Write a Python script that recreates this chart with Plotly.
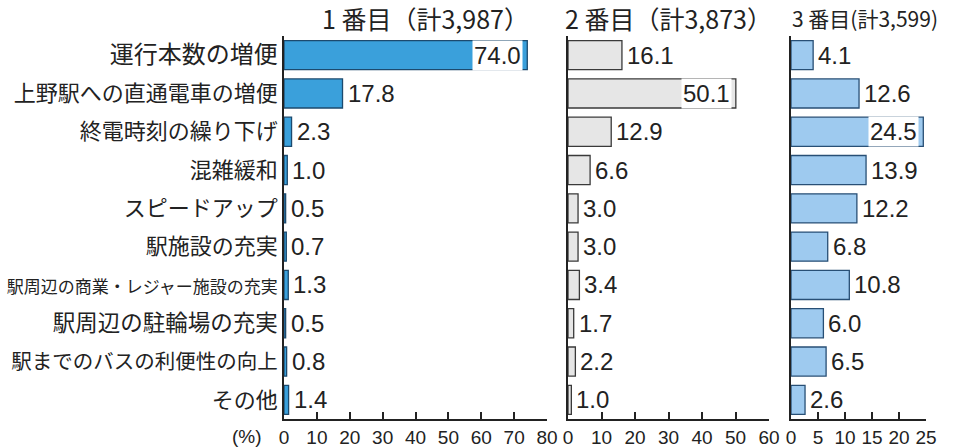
import plotly.graph_objects as go

categories = ["運行本数の増便", "上野駅への直通電車の増便", "終電時刻の繰り下げ", "混雑緩和",
              "スピードアップ", "駅施設の充実", "駅周辺の商業・レジャー施設の充実",
              "駅周辺の駐輪場の充実", "駅までのバスの利便性の向上", "その他"]
first = [74.0, 17.8, 2.3, 1.0, 0.5, 0.7, 1.3, 0.5, 0.8, 1.4]
second = [16.1, 50.1, 12.9, 6.6, 3.0, 3.0, 3.4, 1.7, 2.2, 1.0]
third = [4.1, 12.6, 24.5, 13.9, 12.2, 6.8, 10.8, 6.0, 6.5, 2.6]
titles = ["1 番目（計3,987）", "2 番目（計3,873）", "3 番目(計3,599)"]
x_max = [80, 60, 25]
x_step = [10, 10, 5]
inside_threshold = [60, 40, 20]

# per-label font sizes to mimic the condensed label widths
label_sizes = [24, 22, 22, 22, 22, 22, 17, 22.5, 20.5, 22]

W, H = 965, 448
JP = "Noto Sans CJK JP"
NUM = "Liberation Sans, Arial"

fills = ["#3aa0db", "#e6e6e6", "#9ecaef"]
lines = ["#1c4a6e", "#3a3a3a", "#284f75"]
domains = [[284 / W, 547 / W], [568 / W, 769 / W], [791 / W, 926 / W]]
ydom = [(H - 419) / H, (H - 36) / H]

fig = go.Figure()
annotations = []
series = [first, second, third]
for i, vals in enumerate(series):
    ax = "" if i == 0 else str(i + 1)
    fig.add_trace(go.Bar(
        x=vals, y=categories, orientation="h",
        marker=dict(color=fills[i], line=dict(color=lines[i], width=1.3)),
        width=0.76, xaxis="x" + ax, yaxis="y" + ax, showlegend=False,
        hoverinfo="x+y",
    ))
    for c, v in zip(categories, vals):
        if v >= inside_threshold[i]:
            annotations.append(dict(
                x=v, y=c, xref="x" + ax, yref="y" + ax, text=f"{v:.1f}",
                xanchor="right", yanchor="middle", xshift=-4, showarrow=False,
                bgcolor="white", borderpad=1,
                font=dict(family=NUM, size=24, color="#222"),
            ))
        else:
            annotations.append(dict(
                x=v, y=c, xref="x" + ax, yref="y" + ax, text=f"{v:.1f}",
                xanchor="left", yanchor="middle", xshift=3, showarrow=False,
                font=dict(family=NUM, size=24, color="#222"),
            ))

title_x = [425, 668, 865]
title_sizes = [25, 25, 21]
for i in range(3):
    annotations.append(dict(
        x=title_x[i] / W, y=(H - 18) / H,
        xref="paper", yref="paper", text=titles[i], showarrow=False,
        xanchor="center", yanchor="middle",
        font=dict(family=JP, size=title_sizes[i], color="#222"),
    ))

annotations.append(dict(
    x=264 / W, y=(H - 436) / H, xref="paper", yref="paper", text="(%)",
    showarrow=False, xanchor="right", yanchor="middle",
    font=dict(family=NUM, size=19, color="#222"),
))

ticktext = [f'<span style="font-size:{s}px">{c}</span>' for c, s in zip(categories, label_sizes)]

layout = dict(
    width=W, height=H, margin=dict(l=0, r=0, t=0, b=0),
    paper_bgcolor="white", plot_bgcolor="white",
    annotations=annotations,
)
for i in range(3):
    ax = "" if i == 0 else str(i + 1)
    layout["xaxis" + ax] = dict(
        domain=domains[i], range=[0, x_max[i]], anchor="y" + ax,
        tickmode="linear", tick0=0, dtick=x_step[i],
        ticks="inside", ticklen=7, tickwidth=1.5, tickcolor="#222",
        showline=True, linecolor="#222", linewidth=1.5, showgrid=False,
        zeroline=False, automargin=False, ticklabelstandoff=0,
        tickfont=dict(family=NUM, size=19, color="#222"),
    )
    layout["yaxis" + ax] = dict(
        domain=ydom, range=[9.5, -0.5], anchor="x" + ax,
        type="category", categoryorder="array", categoryarray=categories,
        tickmode="array", tickvals=categories, ticktext=ticktext,
        showline=True, linecolor="#222", linewidth=1.5, showgrid=False,
        zeroline=False, ticks="", automargin=False,
        showticklabels=(i == 0),
        tickfont=dict(family=JP, size=22, color="#222"),
    )
fig.update_layout(**layout)
fig.write_html("out.html", config={"displayModeBar": False},
               post_script="document.body.style.margin='0px';")
